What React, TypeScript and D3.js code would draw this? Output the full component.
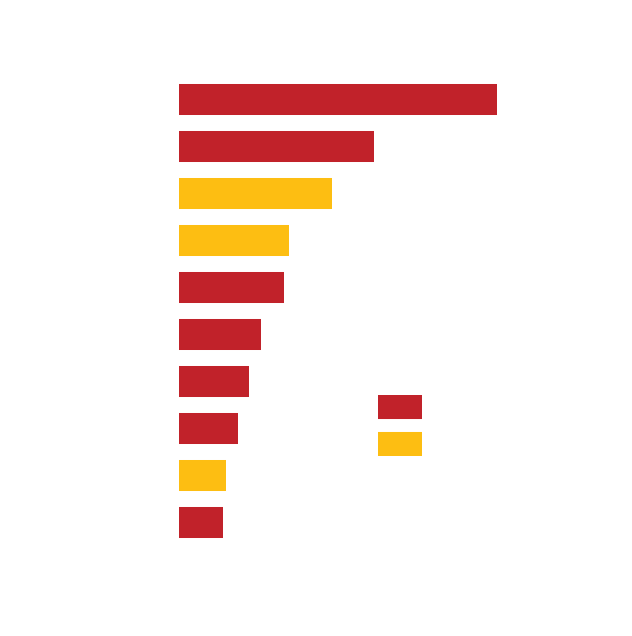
import React from "react";
import * as d3 from "d3";

const categories = ["A", "B", "C", "D", "E", "F", "G", "H", "I", "J"];
const values = [318, 195, 153, 110, 105, 82, 70, 59, 47, 44];
const groups = ["red", "red", "yellow", "yellow", "red", "red", "red", "red", "yellow", "red"];
const legendKeys = ["red", "yellow"];

const colors: { [k: string]: string } = { red: "#c1222a", yellow: "#fdbe12" };

const App: React.FC = () => {
  const svgRef = React.useRef<SVGSVGElement>(null);

  React.useEffect(() => {
    if (!svgRef.current) return;
    const svg = d3.select(svgRef.current);
    svg.selectAll("*").remove();

    const x = d3.scaleLinear().domain([0, 318]).range([179, 497]);
    const y = d3
      .scaleBand<string>()
      .domain(categories)
      .range([76, 546])
      .paddingInner(0.34)
      .paddingOuter(0.17);

    svg
      .append("g")
      .selectAll("rect")
      .data(categories)
      .join("rect")
      .attr("x", x(0))
      .attr("y", (d) => y(d)!)
      .attr("width", (_, i) => x(values[i]) - x(0))
      .attr("height", y.bandwidth())
      .attr("fill", (_, i) => colors[groups[i]]);

    // legend
    const ly = d3.scaleBand<string>().domain(legendKeys).range([395, 456]).paddingInner(0.35);
    svg
      .append("g")
      .selectAll("rect")
      .data(legendKeys)
      .join("rect")
      .attr("x", 378)
      .attr("y", (d) => ly(d)!)
      .attr("width", 44)
      .attr("height", ly.bandwidth())
      .attr("fill", (d) => colors[d]);
  }, []);

  return (
    <svg
      ref={svgRef}
      width={632}
      height={636}
      style={{ position: "absolute", left: 0, top: 0, background: "#fff" }}
    />
  );
};

export default App;
